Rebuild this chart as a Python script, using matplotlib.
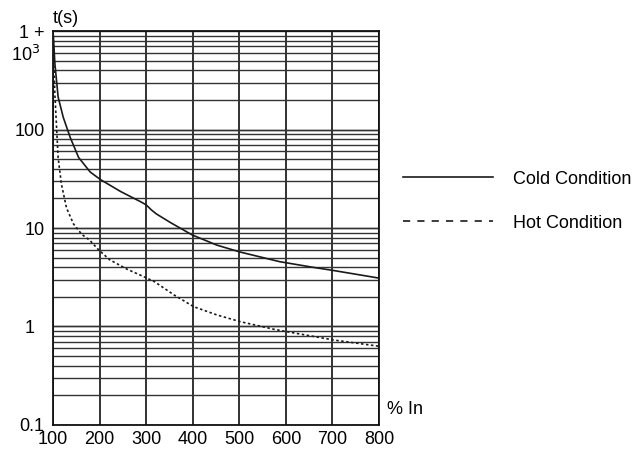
import matplotlib
matplotlib.use("Agg")
import matplotlib.pyplot as plt
from matplotlib.lines import Line2D

plt.rcParams['font.family'] = ['Liberation Sans', 'DejaVu Sans']

# Cold condition curve (% In vs trip time in s)
cold_x = [100, 101, 102, 104, 111, 122, 137, 155, 180, 202, 245, 288, 300,
          311, 322, 332, 353, 399, 452, 502, 587, 657, 703, 800]
cold_t = [1000, 850, 700, 470, 214, 133, 83, 52, 37, 31, 23.5, 18.5, 17.2,
          15.3, 13.9, 13.0, 11.3, 8.5, 6.7, 5.7, 4.55, 4.0, 3.7, 3.1]

# Hot condition curve
hot_x = [100.5, 101, 102, 104, 106, 108, 111, 118, 129, 144, 162, 179, 198,
         222, 260, 289, 318, 360, 402, 452, 502, 573, 600, 702, 800]
hot_t = [900, 700, 450, 230, 150, 98, 52, 28, 16, 11, 8.6, 7.5, 6.0,
         4.75, 3.8, 3.3, 2.85, 2.09, 1.59, 1.31, 1.12, 0.94, 0.89, 0.73, 0.63]

x_ticks = [100, 200, 300, 400, 500, 600, 700, 800]
y_ticks = [0.1, 1, 10, 100]
y_tick_labels = ['0.1', '1  ', '10', '100']

fig = plt.figure(figsize=(6.44, 4.5), dpi=100)
ax = fig.add_axes([0.0823, 0.0556, 0.5062, 0.8754])

ax.set_yscale('log')
ax.set_xlim(100, 800)
ax.set_ylim(0.1, 1000)

# grid: every 100 % In, every 1..9 step on each decade
for xv in x_ticks:
    ax.axvline(xv, color='#222222', lw=1.3, zorder=1)
for dec in [0.1, 1, 10, 100]:
    for m in range(1, 11):
        ax.axhline(dec * m, color='#333333', lw=1.0, zorder=1)

ax.plot(cold_x, cold_t, color='#1a1a1a', lw=1.2, zorder=3)
ax.plot(hot_x, hot_t, color='#1a1a1a', lw=1.2, dashes=(1.5, 1.5), zorder=3)

for s in ax.spines.values():
    s.set_color('#111111')
    s.set_linewidth(1.3)

ax.set_xticks(x_ticks)
ax.set_xticklabels([str(v) for v in x_ticks], fontsize=13)
ax.set_yticks(y_ticks)
ax.set_yticklabels(y_tick_labels, fontsize=13)
ax.yaxis.set_minor_locator(matplotlib.ticker.NullLocator())
ax.tick_params(length=0, pad=6)
ax.tick_params(axis='x', pad=4)

# top label ("1 + 10^3") as in the original
ax.text(-0.025, 0.995, '1 +', transform=ax.transAxes, ha='right', va='center', fontsize=13)
ax.text(-0.04, 0.94, '10$^3$', transform=ax.transAxes, ha='right', va='center', fontsize=13)

ax.text(0.0, 1.01, 't(s)', transform=ax.transAxes, ha='left', va='bottom', fontsize=13)
ax.text(1.025, 0.04, '% In', transform=ax.transAxes, ha='left', va='center', fontsize=13)

handles = [Line2D([], [], color='#1a1a1a', lw=1.2),
           Line2D([], [], color='#1a1a1a', lw=1.2, dashes=(4.3, 4.3))]
fig.legend(handles, ['Cold Condition', 'Hot Condition'], loc='center left',
           bbox_to_anchor=(0.6, 0.553), frameon=False, fontsize=13,
           handlelength=5.0, handletextpad=1.1, labelspacing=1.5)

fig.savefig('out.png', dpi=100)
